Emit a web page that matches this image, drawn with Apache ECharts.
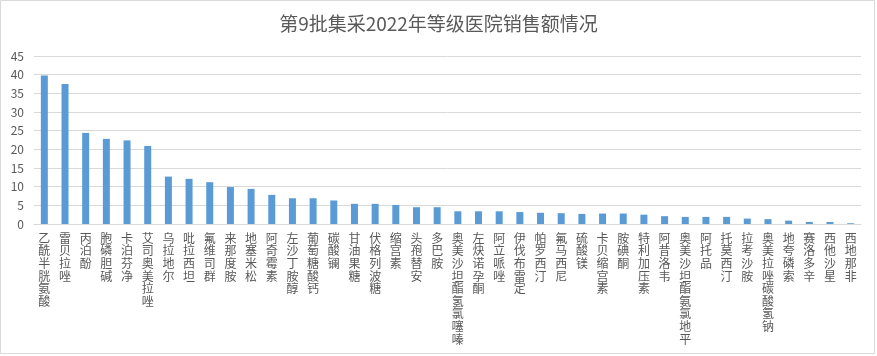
<!DOCTYPE html>
<html>
<head>
<meta charset="utf-8">
<script src="https://cdn.jsdelivr.net/npm/echarts@6/dist/echarts.min.js"></script>
<style>
  html, body { margin: 0; padding: 0; background: #fff; }
  #main { width: 877px; height: 356px; }
</style>
</head>
<body>
<div id="main"></div>
<script>
  const drugNames = ['乙酰半胱氨酸','雷贝拉唑','丙泊酚','胞磷胆碱','卡泊芬净','艾司奥美拉唑','乌拉地尔','吡拉西坦','氟维司群','来那度胺',
    '地塞米松','阿奇霉素','左沙丁胺醇','葡萄糖酸钙','碳酸镧','甘油果糖','伏格列波糖','缩宫素','头孢替安','多巴胺',
    '奥美沙坦酯氢氯噻嗪','左炔诺孕酮','阿立哌唑','伊伐布雷定','帕罗西汀','氟马西尼','硫酸镁','卡贝缩宫素','胺碘酮','特利加压素',
    '阿昔洛韦','奥美沙坦酯氨氯地平','阿托品','托莫西汀','拉考沙胺','奥美拉唑碳酸氢钠','地夸磷索','赛洛多辛','西他沙星','西地那非'];
  const salesValue = [39.8,37.5,24.4,22.8,22.4,20.9,12.7,12.1,11.2,9.9,
    9.4,7.8,6.9,6.9,6.3,5.4,5.4,5.1,4.5,4.5,
    3.4,3.4,3.4,3.2,3.0,2.9,2.7,2.8,2.8,2.5,
    2.1,1.9,1.9,1.9,1.45,1.3,0.9,0.55,0.55,0.2];
  const yTicks = [0,5,10,15,20,25,30,35,40,45];

  var myChart = echarts.init(document.getElementById('main'));
  var option = {
    textStyle: { fontFamily: 'Noto Sans CJK SC' },
    title: {
      text: '第9批集采2022年等级医院销售额情况',
      left: 'center',
      top: 9,
      textStyle: { fontSize: 19, fontWeight: 'normal', color: '#595959', fontFamily: 'Noto Sans CJK SC' }
    },
    graphic: [{
      type: 'rect',
      shape: { x: 0.5, y: 0.5, width: 874, height: 353 },
      style: { fill: 'none', stroke: '#D9D9D9', lineWidth: 1 },
      silent: true
    }],
    grid: { left: 34, right: 16, top: 56, bottom: 132 },
    xAxis: {
      type: 'category',
      data: drugNames,
      axisTick: { show: false },
      axisLine: { lineStyle: { color: '#D9D9D9' } },
      axisLabel: {
        interval: 0,
        margin: 8,
        color: '#595959',
        fontSize: 12,
        lineHeight: 12.6,
        formatter: function (v) { return v.split('').join('\n'); }
      }
    },
    yAxis: {
      type: 'value',
      min: 0,
      max: yTicks[yTicks.length - 1],
      interval: 5,
      axisLabel: { color: '#595959', fontSize: 12, margin: 10 },
      splitLine: { lineStyle: { color: '#D9D9D9' } },
      axisLine: { show: false }
    },
    series: [{
      type: 'bar',
      barWidth: 7,
      itemStyle: { color: '#5B9BD5' },
      data: salesValue
    }]
  };
  option && myChart.setOption(option);
</script>
</body>
</html>
